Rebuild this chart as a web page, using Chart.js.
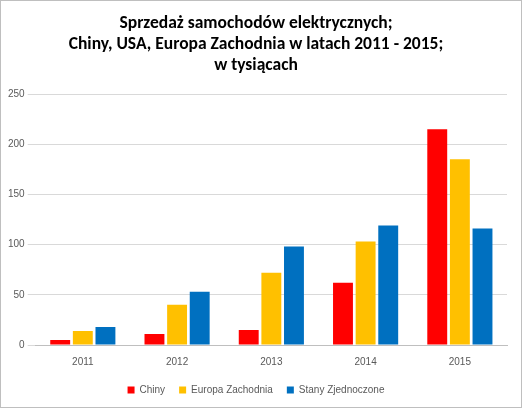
<!DOCTYPE html>
<html><head><meta charset="utf-8">
<script src="https://cdn.jsdelivr.net/npm/chart.js@4"></script>
<style>html,body{margin:0;padding:0;background:#fff}
#w{width:520px;height:406px;border:1px solid #bfbfbf;position:relative}
</style></head><body>
<div id="w"><canvas id="c" width="520" height="406"></canvas></div>
<script>
const categories=["2011","2012","2013","2014","2015"];
const chiny=[5,11,15,62,215];
const europa=[14,40,72,103,185];
const usa=[18,53,98,119,116];
const ticks=[0,50,100,150,200,250];
new Chart(document.getElementById('c'),{type:'bar',
data:{labels:categories,datasets:[
{label:'Chiny',data:chiny,backgroundColor:'#ff0000'},
{label:'Europa Zachodnia',data:europa,backgroundColor:'#ffc000'},
{label:'Stany Zjednoczone',data:usa,backgroundColor:'#0070c0'}]},
options:{responsive:false,animation:false,
layout:{padding:{left:4,right:14,top:8,bottom:2}},
datasets:{bar:{categoryPercentage:0.72,barPercentage:0.88}},
plugins:{title:{display:true,text:['Sprzedaż samochodów elektrycznych;','Chiny, USA, Europa Zachodnia w latach 2011 - 2015;','w tysiącach'],
font:{family:'Calibri, Carlito, "Liberation Sans", sans-serif',size:17.5,weight:'bold'},color:'#000',padding:{top:4,bottom:18},lineHeight:1.3},
legend:{position:'bottom',labels:{boxWidth:7,boxHeight:7,font:{family:'"Liberation Sans", sans-serif',size:10},color:'#595959',padding:14}}},
scales:{x:{grid:{display:false},border:{color:'#bfbfbf'},ticks:{color:'#595959',font:{family:'"Liberation Sans", sans-serif',size:10}}},
y:{min:0,max:250,afterBuildTicks:a=>{a.ticks=ticks.map(v=>({value:v}))},grid:{color:'#d9d9d9'},border:{display:false},
ticks:{color:'#595959',font:{family:'"Liberation Sans", sans-serif',size:10}}}}}});
</script></body></html>
